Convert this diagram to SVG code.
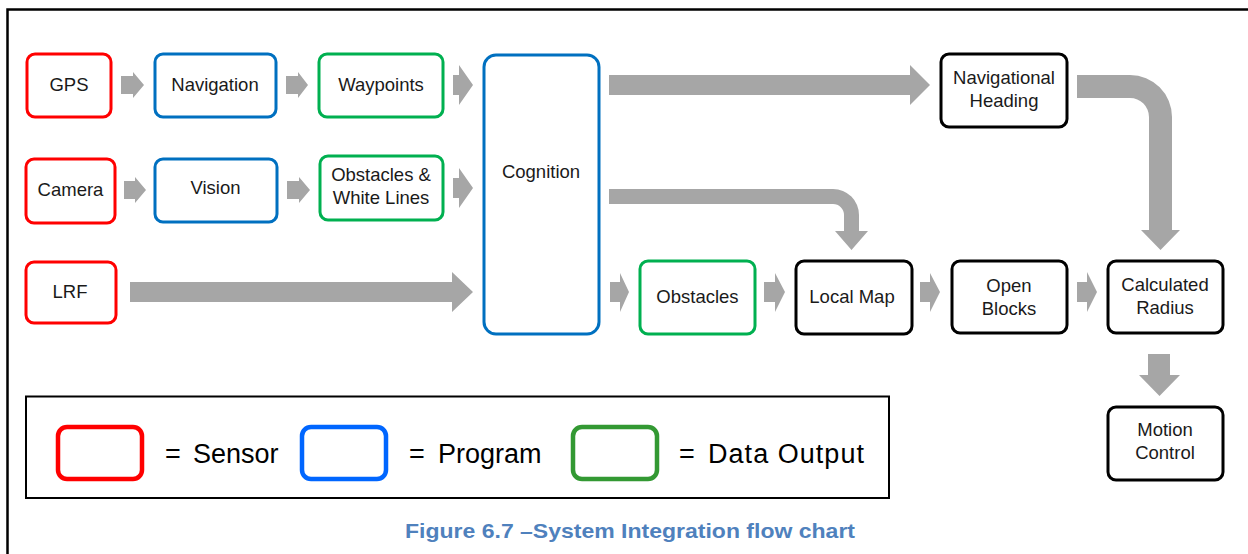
<svg xmlns="http://www.w3.org/2000/svg" width="1248" height="554" viewBox="0 0 1248 554">
<style>
.n{fill:#fff;stroke-width:3}
.r{stroke:#FF0000}.b{stroke:#0070C0}.g{stroke:#00B050}.k{stroke:#000}
.t{font-family:"Liberation Sans",Arial,sans-serif;font-size:18.5px;fill:#1a1a1a;text-anchor:middle}
.a{fill:#A6A6A6}
.lg{fill:#fff;stroke-width:4.5}
.lt{font-family:"Liberation Sans",Arial,sans-serif;font-size:27px;fill:#000}
</style>
<rect width="1248" height="554" fill="#fff"/>
<path d="M7.5,554 V9.5 H1248" fill="none" stroke="#000" stroke-width="2.5"/>

<g id="connectors">
  <path class="a" d="M121,76 H133 V72 L144,85 L133,98 V94 H121 Z"/>
  <path class="a" d="M286,76 H298 V72 L308,85 L298,98 V94 H286 Z"/>
  <path class="a" d="M453,75 H459 V65 L473,85 L459,105 V95 H453 Z"/>
  <path class="a" d="M124,181 H135 V177 L146,190 L135,203 V199 H124 Z"/>
  <path class="a" d="M287,181 H299 V177 L310,190 L299,203 V199 H287 Z"/>
  <path class="a" d="M453,178 H459 V168 L473,188 L459,208 V198 H453 Z"/>
  <path class="a" d="M130,282 H452 V272 L473,292 L452,312 V302 H130 Z"/>
  <path class="a" d="M609,75 H910 V65 L930,85 L910,105 V95 H609 Z"/>
  <path class="a" d="M609,189 H833 A26,26 0 0 1 859,215 V231 H868 L851.5,250 L835,231 H844 V215 A11,11 0 0 0 833,204 H609 Z"/>
  <path class="a" d="M1077,75 H1130 A42,42 0 0 1 1172,117 V230 H1180 L1160.5,250 L1141,230 H1149 V117 A19,19 0 0 0 1130,98 H1077 Z"/>
  <path class="a" d="M610,282 H620 V273 L629,292 L620,312 V302 H610 Z"/>
  <path class="a" d="M764,282 H775 V273 L785,292 L775,312 V302 H764 Z"/>
  <path class="a" d="M920,282 H930 V273 L940,292 L930,312 V302 H920 Z"/>
  <path class="a" d="M1077,282 H1087 V272 L1097,292 L1087,312 V302 H1077 Z"/>
  <path class="a" d="M1148,354 H1170 V375 H1180 L1159.5,396 L1139,375 H1148 Z"/>
</g>

<g id="gps"><rect class="n r" x="27" y="54" width="84" height="63" rx="8"/><text class="t" x="69" y="91">GPS</text></g>
<g id="navigation"><rect class="n b" x="155" y="54" width="121" height="63" rx="8"/><text class="t" x="215" y="91">Navigation</text></g>
<g id="waypoints"><rect class="n g" x="319" y="54" width="124" height="63" rx="8"/><text class="t" x="381" y="91">Waypoints</text></g>
<g id="camera"><rect class="n r" x="26" y="159" width="89" height="64" rx="8"/><text class="t" x="70.5" y="196">Camera</text></g>
<g id="vision"><rect class="n b" x="155" y="159" width="122" height="63" rx="8"/><text class="t" x="215.5" y="194">Vision</text></g>
<g id="obstacles-white-lines"><rect class="n g" x="320" y="156" width="123" height="64" rx="8"/><text class="t" x="381" y="181">Obstacles &amp;</text><text class="t" x="381" y="204">White Lines</text></g>
<g id="lrf"><rect class="n r" x="26" y="262" width="90" height="61" rx="8"/><text class="t" x="70" y="298">LRF</text></g>
<g id="cognition"><rect class="n b" x="484" y="55" width="115" height="279" rx="12"/><text class="t" x="541" y="178">Cognition</text></g>
<g id="navigational-heading"><rect class="n k" x="941" y="54" width="126" height="73" rx="8"/><text class="t" x="1004" y="84">Navigational</text><text class="t" x="1004" y="107">Heading</text></g>
<g id="obstacles"><rect class="n g" x="640" y="261" width="115" height="73" rx="8"/><text class="t" x="697.5" y="303">Obstacles</text></g>
<g id="local-map"><rect class="n k" x="796" y="261" width="116" height="73" rx="8"/><text class="t" x="852" y="303">Local Map</text></g>
<g id="open-blocks"><rect class="n k" x="952" y="261" width="115" height="72" rx="8"/><text class="t" x="1009" y="292">Open</text><text class="t" x="1009" y="315">Blocks</text></g>
<g id="calculated-radius"><rect class="n k" x="1108" y="261" width="115" height="72" rx="8"/><text class="t" x="1165" y="291">Calculated</text><text class="t" x="1165" y="314">Radius</text></g>
<g id="motion-control"><rect class="n k" x="1108" y="407" width="115" height="73" rx="8"/><text class="t" x="1165" y="436">Motion</text><text class="t" x="1165" y="459">Control</text></g>

<g id="legend">
  <rect x="26" y="396.5" width="863" height="101.5" fill="#fff" stroke="#000" stroke-width="2"/>
  <rect class="lg" x="58" y="427" width="84" height="52" rx="9" stroke="#FF0000"/>
  <text class="lt" x="165" y="463">=<tspan x="193">Sensor</tspan></text>
  <rect class="lg" x="302" y="427" width="84" height="52" rx="9" stroke="#0066FF"/>
  <text class="lt" x="409" y="463">=<tspan x="438">Program</tspan></text>
  <rect class="lg" x="573" y="427" width="84" height="52" rx="9" stroke="#339933"/>
  <text class="lt" x="679" y="463">=<tspan x="708" textLength="156" lengthAdjust="spacing">Data Output</tspan></text>
</g>

<text x="405" y="538" font-family="Liberation Sans, Arial, sans-serif" font-size="21" font-weight="bold" fill="#4F81BD" textLength="450" lengthAdjust="spacingAndGlyphs">Figure 6.7 –System Integration flow chart</text>
</svg>
